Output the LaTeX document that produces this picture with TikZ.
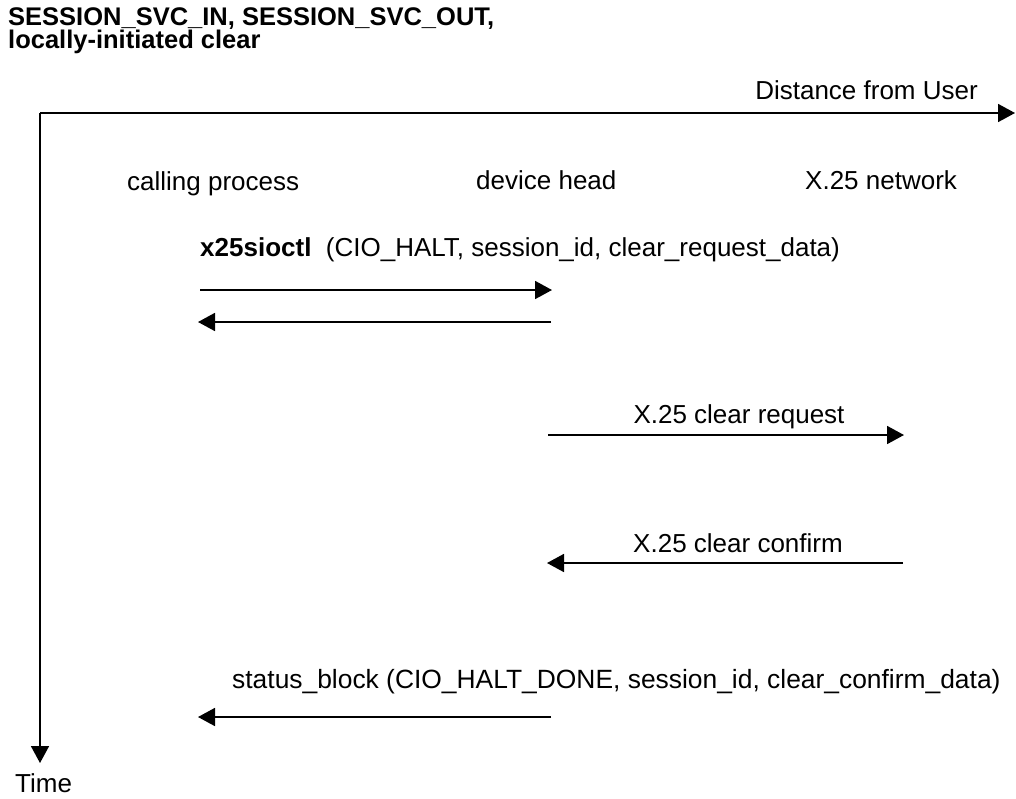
\documentclass[tikz,border=0pt]{standalone}
\usepackage{fontspec}
\setmainfont{Liberation Sans}
\usetikzlibrary{arrows.meta}
\begin{document}
\begin{tikzpicture}[x=1pt,y=-1pt,
  txt/.style={inner sep=0pt,font=\fontsize{26}{30}\selectfont},
  ttl/.style={inner sep=0pt,align=left,font=\bfseries\fontsize{25.5}{20.5}\selectfont},
  msg/.style={line width=1.8pt,-{Triangle[length=17pt,width=18pt]}},
  axis/.style={line width=1.8pt,-{Triangle[length=17pt,width=18pt]}}]
\useasboundingbox (0,0) rectangle (1016,798);
% title (two lines, one node)
\node[ttl,anchor=base west] (title) at (8,48.5) {SESSION\_SVC\_IN, SESSION\_SVC\_OUT,\\locally-initiated clear};
% axes
\coordinate (origin) at (40,113);
\coordinate (xend) at (1015,113);
\coordinate (yend) at (40,763);
\draw[axis] (origin) -- (xend);
\draw[axis] (origin) -- (yend);
\node[txt,anchor=base east] (dist) at (978,99) {Distance from User};
\node[txt,anchor=base west] (time) at (15,792) {Time};
% column headings
\node[txt,anchor=base west] (cp) at (127,190) {calling process};
\node[txt,anchor=base west] (dh) at (476,189) {device head};
\node[txt,anchor=base west] (net) at (805,189) {X.25 network};
% message 1
\node[txt,anchor=base west] (m1) at (200,256) {\textbf{x25sioctl}\ \ (CIO\_HALT, session\_id, clear\_request\_data)};
\coordinate (a1s) at (200,290);
\coordinate (a1e) at (552,290);
\draw[msg] (a1s) -- (a1e);
\coordinate (a2s) at (551,322);
\coordinate (a2e) at (198,322);
\draw[msg] (a2s) -- (a2e);
% message 3
\node[txt,anchor=base] (m3) at (739,423) {X.25 clear request};
\coordinate (a3s) at (548,435);
\coordinate (a3e) at (904,435);
\draw[msg] (a3s) -- (a3e);
% message 4
\node[txt,anchor=base] (m4) at (738,552) {X.25 clear confirm};
\coordinate (a4s) at (903,563);
\coordinate (a4e) at (547,563);
\draw[msg] (a4s) -- (a4e);
% message 5
\node[txt,anchor=base west,font=\fontsize{26.4}{30}\selectfont] (m5) at (232,688) {status\_block (CIO\_HALT\_DONE, session\_id, clear\_confirm\_data)};
\coordinate (a5s) at (551,717);
\coordinate (a5e) at (198,717);
\draw[msg] (a5s) -- (a5e);
\end{tikzpicture}
\end{document}
